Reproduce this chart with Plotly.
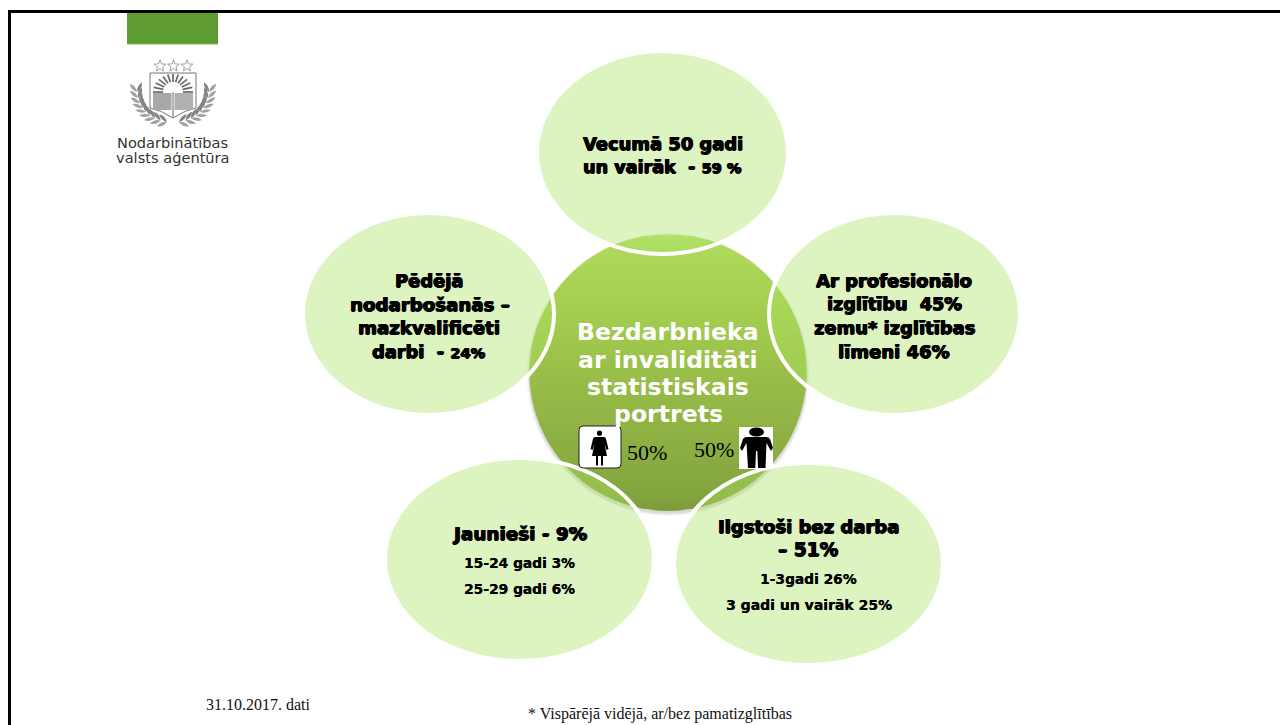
import math
import numpy as np
import plotly.graph_objects as go

# ---- content -------------------------------------------------------------
SERIF = "Liberation Serif"
BOLD = "DejaVu Sans"
center_title = ["Bezdarbnieka", "ar invaliditāti", "statistiskais", "portrets"]
center_title_y = [332, 359.5, 386.5, 414]
gender_labels = ["50%", "50%"]
gender_pos = [(647, 452), (714, 449)]

ellipses = [  # cx, cy, rx, ry
    (662.5, 152.5, 125.5, 101.5),
    (894.5, 314, 125.5, 101),
    (428.5, 314, 125.5, 101),
    (519.5, 559.5, 134.5, 101.5),
    (808.5, 564, 134.5, 101),
]
small = '<span style="font-size:14.6px">%s</span>'
bubble_lines = [
    ("Vecumā 50 gadi", 662.5, 143, 17.9),
    ("un vairāk  - " + small % "59 %", 662.5, 167, 17.6),
    ("Ar profesionālo", 894, 280, 18),
    ("izglītību  45%", 894.5, 304, 17.6),
    ("zemu* izglītības", 894, 327, 17.9),
    ("līmeni 46%", 894, 351, 18),
    ("Pēdējā", 429, 280, 17.9),
    ("nodarbošanās –", 430, 304, 18.2),
    ("mazkvalificēti", 429, 327, 18.2),
    ("darbi  - " + small % "24%", 429, 351, 17.8),
    ("Jaunieši - 9%", 519, 533, 18.4),
    ("15-24 gadi 3%", 519.5, 563, 13.8),
    ("25-29 gadi 6%", 519.5, 589, 13.8),
    ("Ilgstoši bez darba", 808.5, 526, 18),
    ("– 51%", 808, 549, 18.6),
    ("1-3gadi 26%", 808.5, 579, 13.8),
    ("3 gadi un vairāk 25%", 808.5, 605, 14),
]
footnotes = [
    ("31.10.2017. dati", 258, 704, 16),
    ("* Vispārējā vidējā, ar/bez pamatizglītības", 659.5, 714, 16),
]
logo_lines = [("Nodarbinātības", 172.5, 142), ("valsts aģentūra", 172.5, 157)]

BUBBLE = "rgba(172,228,97,0.4)"

# ---- helpers -------------------------------------------------------------
shapes = []


def ell(cx, cy, rx, ry, fill, line=None, lw=0):
    shapes.append(dict(type="circle", x0=cx - rx, x1=cx + rx, y0=cy - ry, y1=cy + ry,
                       fillcolor=fill, line=dict(color=line or "rgba(0,0,0,0)", width=lw)))


def rect(x0, y0, x1, y1, fill):
    shapes.append(dict(type="rect", x0=x0, x1=x1, y0=y0, y1=y1, fillcolor=fill,
                       line=dict(width=0)))


def path(d, fill="rgba(0,0,0,0)", line=None, lw=0):
    shapes.append(dict(type="path", path=d, fillcolor=fill,
                       line=dict(color=line or "rgba(0,0,0,0)", width=lw)))


def lerp(a, b, t):
    return tuple(a[i] + (b[i] - a[i]) * t for i in range(3))


def rgb(c):
    return "rgb(%d,%d,%d)" % tuple(round(v) for v in c)


def leaf(x, y, angle, length, width, fill="#8f8f8f"):
    ca, sa = math.cos(angle), math.sin(angle)
    ex, ey = x + ca * length, y + sa * length
    mx, my = (x + ex) / 2, (y + ey) / 2
    path(f"M{x:.1f},{y:.1f} Q{mx - sa * width:.1f},{my + ca * width:.1f} {ex:.1f},{ey:.1f} "
         f"Q{mx + sa * width:.1f},{my - ca * width:.1f} {x:.1f},{y:.1f} Z", fill)


# ---- frame ---------------------------------------------------------------
rect(8, 10, 1280, 13, "#000000")
rect(8, 10, 11, 725, "#000000")

# ---- logo ----------------------------------------------------------------
rect(127, 13, 218, 44, "#5C9C33")
path("M127,44 L218,44", line="#84B95C", lw=1)
# wreath: two mirrored branches of leaves along a curved stem
P0, P1, P2 = (167, 122), (140, 117), (137, 92)
for mirror in (False, True):
    for j in range(9):
        u = j / 8
        x = (1 - u) ** 2 * P0[0] + 2 * u * (1 - u) * P1[0] + u * u * P2[0]
        y = (1 - u) ** 2 * P0[1] + 2 * u * (1 - u) * P1[1] + u * u * P2[1]
        dx = 2 * (1 - u) * (P1[0] - P0[0]) + 2 * u * (P2[0] - P1[0])
        dy = 2 * (1 - u) * (P1[1] - P0[1]) + 2 * u * (P2[1] - P1[1])
        tang = math.atan2(dy, dx)
        for off, shade in ((0.6, "#858585"), (-0.6, "#a2a2a2")):
            ang = tang + off
            if mirror:
                leaf(346 - x, y, math.pi - ang, 11, 3.4, shade)
            else:
                leaf(x, y, ang, 11, 3.4, shade)
# stars
for sx in (160, 173.5, 187):
    pts = []
    for k in range(10):
        r = 6.2 if k % 2 == 0 else 2.6
        a = -math.pi / 2 + k * math.pi / 5
        pts.append(f"{sx + r * math.cos(a):.1f},{66 + r * math.sin(a):.1f}")
    path("M" + " L".join(pts) + " Z", "#ffffff", "#8a8a8a", 0.8)
# shield
path("M150,73 L196,73 L196,108 Q185,110 173,118 Q161,110 150,108 Z", "#ffffff", "#777777", 1)
for i in range(13):
    a = math.pi + i * math.pi / 12
    path(f"M{173 + 10 * math.cos(a):.1f},{92 + 10 * math.sin(a):.1f} "
         f"L{173 + 20 * math.cos(a):.1f},{92 + 18 * math.sin(a):.1f}", line="#6a6a6a", lw=1.7)
path("M163,92 A10,10 0 0 1 183,92 Z", "#ffffff", "#666666", 0.8)
rect(153, 93, 171.5, 110, "#a8a8a8")
rect(174.5, 93, 193, 110, "#b0b0b0")
path("M173,92 L173,117", line="#666666", lw=1)

# ---- centre disc ---------------------------------------------------------
CX, CY, R = 668, 372.5, 138.5
for grow, alpha in ((3, 0.04), (2, 0.06), (1, 0.1)):
    ell(CX, CY + 2, R + grow, R + grow, f"rgba(60,60,40,{alpha})")
stops = [(0.0, (186, 226, 120)), (0.015, (178, 221, 102)), (0.07, (172, 215, 88)), (0.22, (167, 209, 82)),
         (0.5, (153, 190, 73)), (0.8, (139, 172, 65)), (0.94, (132, 164, 62)), (1.0, (124, 154, 58))]
step = 2
ys = np.arange(CY - R, CY + R, step)


def half(y):
    return math.sqrt(max(R * R - (y - CY) ** 2, 0))


for y0 in ys:
    y1 = min(y0 + step + 0.6, CY + R)
    t = (y0 - (CY - R)) / (2 * R)
    for (a, ca), (b, cb) in zip(stops, stops[1:]):
        if a <= t <= b:
            col = lerp(ca, cb, (t - a) / (b - a))
            break
    h0, h1 = half(y0), half(y1)
    path(f"M{CX - h0:.2f},{y0:.2f} L{CX + h0:.2f},{y0:.2f} L{CX + h1:.2f},{y1:.2f} L{CX - h1:.2f},{y1:.2f} Z",
         rgb(col))

# ---- surrounding bubbles -------------------------------------------------
for cx, cy, rx, ry in ellipses:
    ell(cx, cy, rx, ry, BUBBLE, "#ffffff", 4)

# ---- gender icons --------------------------------------------------------
path("M583,426 L617,426 Q621,426 621,430 L621,464 Q621,468 617,468 L583,468 "
     "Q579,468 579,464 L579,430 Q579,426 583,426 Z", "#ffffff", "#222222", 1)
ell(599.5, 433.2, 2.6, 2.6, "#000000")
path("M595,437 L604,437 Q605.5,437 606,439 L608.5,449 L606.5,450 L604.5,443.5 L607,456 L603,456 "
     "L603,465.5 L601,465.5 L601,456 L598,456 L598,465.5 L596,465.5 L596,456 L592,456 "
     "L594.5,443.5 L592.5,450 L590.5,449 L593,439 Q593.5,437 595,437 Z", "#000000")
rect(739, 427, 773, 469, "#ffffff")
ell(756.5, 432, 7.5, 4.5, "#000000")
path("M747,437 L766,437 Q769,437 770,439 L773,448 L771,451 L766.5,443 L765.5,468 L758,468 "
     "L757.3,451 L756,451 L755.3,468 L748,468 L746.5,443 L742,451 L740,448 L743,439 Q744,437 747,437 Z",
     "#000000")

# ---- text ----------------------------------------------------------------
ann = []


def text(s, x, y, family, size, color="#000000", bold=False, shadow=None):
    ann.append(dict(x=x, y=y, xref="x", yref="y", text=f"<b>{s}</b>" if bold else s, showarrow=False,
                    xanchor="center", yanchor="middle",
                    font=dict(family=family, size=size, color=color, shadow=shadow or "none")))


for s, y in zip(center_title, center_title_y):
    text(s, 668, y, "DejaVu Sans", 23.6, "#ffffff", True)
for s, (x, y) in zip(gender_labels, gender_pos):
    text(s, x, y, SERIF, 22)
for s, x, y, size in bubble_lines:
    text(s, x, y, BOLD, size, "#000000", True,
         "0.7px 0 0 #000, -0.6px 0 0 #000, 0 0.5px 0 #000" if size > 15 else "0.2px 0 0 #000")
for s, x, y, size in footnotes:
    text(s, x, y, SERIF, size, "#111111")
for s, x, y in logo_lines:
    text(s, x, y, "DejaVu Sans", 14.6, "#333333")

fig = go.Figure()
fig.update_layout(
    width=1280, height=725, autosize=False,
    margin=dict(l=0, r=0, t=0, b=0, pad=0),
    paper_bgcolor="#ffffff", plot_bgcolor="#ffffff",
    showlegend=False,
    xaxis=dict(range=[0, 1280], visible=False, fixedrange=True),
    yaxis=dict(range=[725, 0], visible=False, fixedrange=True),
    shapes=shapes, annotations=ann,
)
fig.write_html("out.html", config={"displayModeBar": False},
               post_script="document.body.style.margin='0';document.body.style.overflow='hidden';")
